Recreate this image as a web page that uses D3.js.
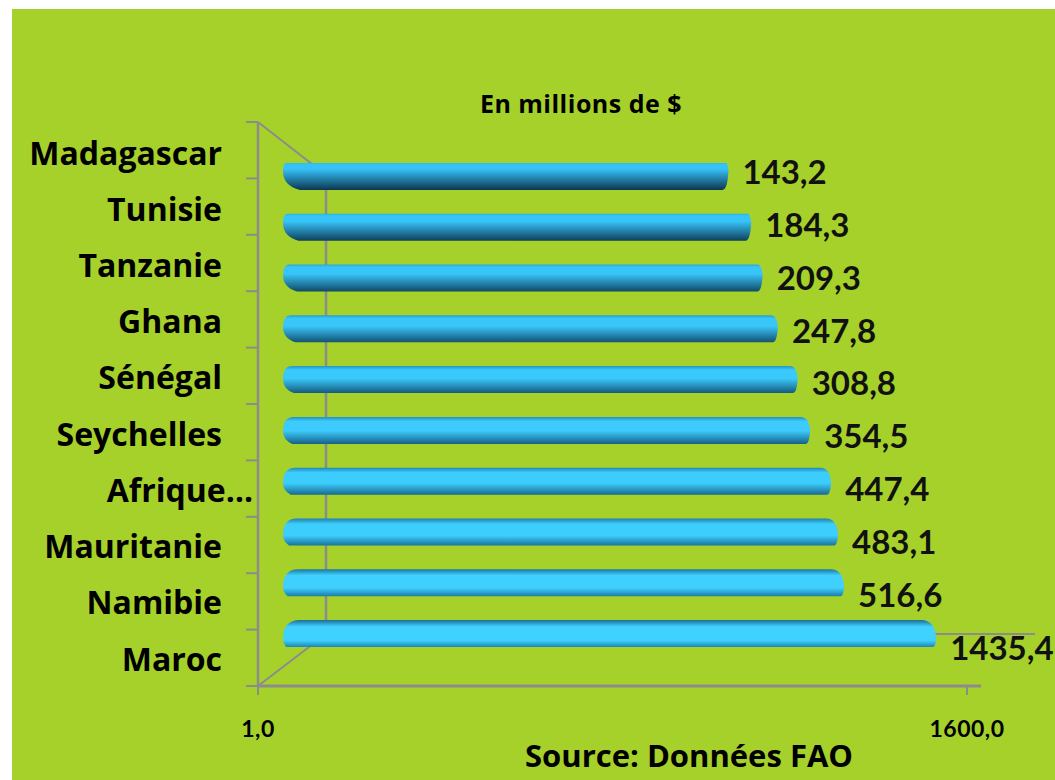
<!DOCTYPE html>
<html>
<head>
<meta charset="utf-8">
<script src="https://cdn.jsdelivr.net/npm/d3@7"></script>
<style>
  body { margin: 0; background: #fff; }
  svg { display: block; }
</style>
</head>
<body>
<svg width="1055" height="780"></svg>
<script>
const countries = ['Madagascar', 'Tunisie', 'Tanzanie', 'Ghana', 'Sénégal', 'Seychelles', 'Afrique…', 'Mauritanie', 'Namibie', 'Maroc']
const values = [143.2, 184.3, 209.3, 247.8, 308.8, 354.5, 447.4, 483.1, 516.6, 1435.4]
const axisTicks = [1, 1600]
const unitLabel = 'En millions de $'
const sourceLabel = 'Source: Données FAO'

const svg = d3.select('svg')
const width = +svg.attr('width')
const height = +svg.attr('height')

const fmt = v => d3.format('.1f')(v).replace('.', ',')

// background panel
svg.append('rect')
	.attr('x', 12).attr('y', 9)
	.attr('width', width - 12).attr('height', height - 9)
	.attr('fill', '#a6d12a')

// front plane scale (axis) and back plane scale (bars)
const xFront = d3.scaleLog().domain([1, 1600]).range([258, 967])
const xBar = d3.scaleLog().domain([1, 1600]).range([280, 945])

const yBar = d3.scalePoint().domain(countries).range([176.5, 633.5])
const yLabel = d3.scalePoint().domain(countries).range([153, 659])
const yValue = d3.scalePoint().domain(countries).range([172, 648])
const yTicks = d3.scaleLinear().domain([0, countries.length]).range([122, 686])

const grey = '#8c8c8c'
const g = svg.append('g')

// walls
g.append('line').attr('x1', 258).attr('x2', 258).attr('y1', 122).attr('y2', 686)
	.attr('stroke', grey).attr('stroke-width', 2.5)
g.append('line').attr('x1', 258).attr('x2', 326).attr('y1', 122).attr('y2', 175)
	.attr('stroke', grey).attr('stroke-width', 2)
g.append('line').attr('x1', 258).attr('x2', 326).attr('y1', 686).attr('y2', 634)
	.attr('stroke', grey).attr('stroke-width', 2)
g.append('line').attr('x1', 326).attr('x2', 326).attr('y1', 175).attr('y2', 634)
	.attr('stroke', grey).attr('stroke-width', 2.5)
g.append('line').attr('x1', 326).attr('x2', 1035).attr('y1', 634).attr('y2', 634)
	.attr('stroke', grey).attr('stroke-width', 2)

// y ticks
g.selectAll('.ytick')
	.data(d3.range(countries.length + 1))
	.enter()
	.append('line')
	.attr('x1', 246).attr('x2', 258)
	.attr('y1', d => yTicks(d)).attr('y2', d => yTicks(d))
	.attr('stroke', grey).attr('stroke-width', 2)

// x axis
g.append('line').attr('x1', 257).attr('x2', 981).attr('y1', 686).attr('y2', 686)
	.attr('stroke', grey).attr('stroke-width', 3)
g.selectAll('.xtick')
	.data(axisTicks)
	.enter()
	.append('line')
	.attr('x1', d => xFront(d)).attr('x2', d => xFront(d))
	.attr('y1', 686).attr('y2', 695)
	.attr('stroke', grey).attr('stroke-width', 2)

g.selectAll('.xlabel')
	.data(axisTicks)
	.enter()
	.append('text')
	.attr('x', d => xFront(d))
	.attr('y', 737)
	.attr('text-anchor', 'middle')
	.attr('font-family', 'Lato, sans-serif')
	.attr('font-weight', 'bold')
	.attr('font-size', '23px')
	.attr('letter-spacing', '0.5px')
	.text(d => fmt(d))

// gradients
const defs = svg.append('defs')
const n = countries.length
countries.forEach((c, i) => {
	const t = i / (n - 1)
	const grad = defs.append('linearGradient')
		.attr('id', 'grad' + i)
		.attr('x1', 0).attr('x2', 0).attr('y1', 0).attr('y2', 1)
	const topCol = d3.interpolateRgb('#2fb6ec', '#1a6f98')(t)
	const lightCol = d3.interpolateRgb('#36c2f8', '#40d2ff')(t)
	const botCol = d3.interpolateRgb('#0d3650', '#1d86b4')(t)
	const lightStart = 0.05 + 0.2 * t
	const lightEnd = d3.interpolateNumber(0.22, 0.75)(t)
	grad.append('stop').attr('offset', 0).attr('stop-color', topCol)
	grad.append('stop').attr('offset', lightStart).attr('stop-color', lightCol)
	grad.append('stop').attr('offset', lightEnd).attr('stop-color', lightCol)
	grad.append('stop').attr('offset', 1).attr('stop-color', botCol)
})

const barH = 27
const barPath = (v, i) => {
	const t = i / (n - 1)
	const x0 = xBar(1) + 3
	const x1 = xBar(v)
	const y0 = yBar(countries[i]) - barH / 2
	const y1 = y0 + barH
	const la = 3 + 14 * t       // top-left chamfer
	const lb = 17 - 14 * t      // bottom-left chamfer
	const ra = 1 + 13 * t       // top-right rounding
	const rb = 5 - 3 * t        // bottom-right rounding
	const mid = y0 + barH * (0.3 + 0.4 * t)
	return `M${x0 + la},${y0} L${x1 - ra},${y0} Q${x1},${y0} ${x1 + 1},${mid}` +
		` Q${x1},${y1} ${x1 - rb},${y1} L${x0 + lb},${y1}` +
		` Q${x0},${y1 - 4} ${x0},${mid} Q${x0},${y0} ${x0 + la},${y0} Z`
}

g.selectAll('.bar')
	.data(values)
	.enter()
	.append('path')
	.attr('class', 'bar')
	.attr('d', (d, i) => barPath(d, i))
	.attr('fill', (d, i) => `url(#grad${i})`)

// value labels
g.selectAll('.bartext')
	.data(values)
	.enter()
	.append('text')
	.attr('class', 'bartext')
	.attr('x', d => xBar(d) + 15)
	.attr('y', (d, i) => yValue(countries[i]))
	.attr('dy', '0.36em')
	.attr('font-family', 'Lato, sans-serif')
	.attr('font-weight', 'bold')
	.attr('font-size', '33px')
	.attr('fill', '#111')
	.text(d => fmt(d))

// category labels
g.selectAll('.cat')
	.data(countries)
	.enter()
	.append('text')
	.attr('x', d => d.endsWith('…') ? 253 : 222)
	.attr('y', d => yLabel(d))
	.attr('dy', '0.36em')
	.attr('text-anchor', 'end')
	.attr('font-family', 'Open Sans, sans-serif')
	.attr('font-weight', 'bold')
	.attr('font-size', '32px')
	.attr('fill', '#000')
	.text(d => d)

// unit label
svg.append('text')
	.attr('x', 581).attr('y', 104)
	.attr('dy', '0.36em')
	.attr('text-anchor', 'middle')
	.attr('font-family', 'Open Sans, sans-serif')
	.attr('font-weight', 'bold')
	.attr('font-size', '25px')
	.attr('letter-spacing', '0.5px')
	.text(unitLabel)

// source
svg.append('text')
	.attr('x', 689).attr('y', 756)
	.attr('dy', '0.36em')
	.attr('text-anchor', 'middle')
	.attr('font-family', 'Open Sans, sans-serif')
	.attr('font-weight', 'bold')
	.attr('font-size', '31px')
	.text(sourceLabel)
</script>
</body>
</html>
